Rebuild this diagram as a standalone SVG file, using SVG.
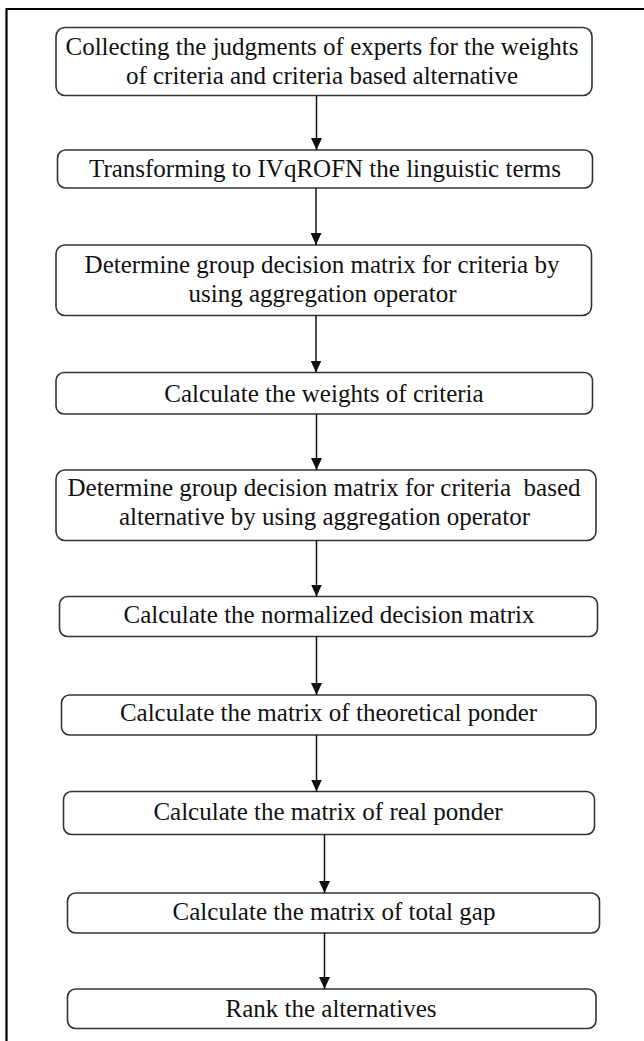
<svg xmlns="http://www.w3.org/2000/svg" width="644" height="1041" viewBox="0 0 644 1041">
<defs>
<marker id="ah" markerWidth="12" markerHeight="11" refX="12" refY="5.5" orient="auto" markerUnits="userSpaceOnUse" viewBox="0 0 12 11">
<path d="M0,0 L12,5.5 L0,11 Z" fill="#111"/>
</marker>
</defs>
<style>
.box{fill:#fff;stroke:#333;stroke-width:1.6}
.t{font-family:"Liberation Serif","Times New Roman",serif;font-size:25px;fill:#111;text-anchor:middle}
.c{stroke:#111;stroke-width:1.5;fill:none}
</style>
<rect x="0" y="0" width="644" height="1041" fill="#fff"/>
<path d="M6.5,1041 V9 H644" fill="none" stroke="#000" stroke-width="2.2"/>
<g id="n1"><rect class="box" x="56" y="27.5" width="536" height="68" rx="9"/><text class="t" x="322" y="54.5">Collecting the judgments of experts for the weights</text><text class="t" x="322" y="84">of criteria and criteria based alternative</text></g>
<g id="n2"><rect class="box" x="57.5" y="150" width="535" height="38" rx="8"/><text class="t" x="325" y="177">Transforming to IVqROFN the linguistic terms</text></g>
<g id="n3"><rect class="box" x="56" y="245" width="535.5" height="70.5" rx="9"/><text class="t" x="322" y="273">Determine group decision matrix for criteria by</text><text class="t" x="322.5" y="301.5">using aggregation operator</text></g>
<g id="n4"><rect class="box" x="56" y="372.5" width="536.5" height="41.5" rx="8"/><text class="t" x="324" y="401.5">Calculate the weights of criteria</text></g>
<g id="n5"><rect class="box" x="56" y="470" width="540" height="70.5" rx="9"/><text class="t" x="324" y="496" xml:space="preserve">Determine group decision matrix for criteria  based</text><text class="t" x="324.5" y="525">alternative by using aggregation operator</text></g>
<g id="n6"><rect class="box" x="59.5" y="596.5" width="538" height="40" rx="8"/><text class="t" x="329" y="623">Calculate the normalized decision matrix</text></g>
<g id="n7"><rect class="box" x="61.5" y="695" width="534.5" height="40" rx="8"/><text class="t" x="328.5" y="721">Calculate the matrix of theoretical ponder</text></g>
<g id="n8"><rect class="box" x="63.5" y="791.5" width="531" height="43" rx="8"/><text class="t" x="328" y="820">Calculate the matrix of real ponder</text></g>
<g id="n9"><rect class="box" x="67.5" y="893" width="532" height="40" rx="8"/><text class="t" x="334" y="920">Calculate the matrix of total gap</text></g>
<g id="n10"><rect class="box" x="67.5" y="989" width="528.5" height="39.5" rx="8"/><text class="t" x="331" y="1016.5">Rank the alternatives</text></g>
<g id="connectors">
<line class="c" x1="316.5" y1="95.5" x2="316.5" y2="150" marker-end="url(#ah)"/>
<line class="c" x1="316" y1="188" x2="316" y2="245" marker-end="url(#ah)"/>
<line class="c" x1="316" y1="315.5" x2="316" y2="372.5" marker-end="url(#ah)"/>
<line class="c" x1="316.5" y1="414" x2="316.5" y2="470" marker-end="url(#ah)"/>
<line class="c" x1="316.5" y1="540.5" x2="316.5" y2="596.5" marker-end="url(#ah)"/>
<line class="c" x1="316.5" y1="636.5" x2="316.5" y2="695" marker-end="url(#ah)"/>
<line class="c" x1="316.5" y1="735" x2="316.5" y2="791.5" marker-end="url(#ah)"/>
<line class="c" x1="324.5" y1="834.5" x2="324.5" y2="893" marker-end="url(#ah)"/>
<line class="c" x1="324.5" y1="933" x2="324.5" y2="989" marker-end="url(#ah)"/>
</g>
</svg>
